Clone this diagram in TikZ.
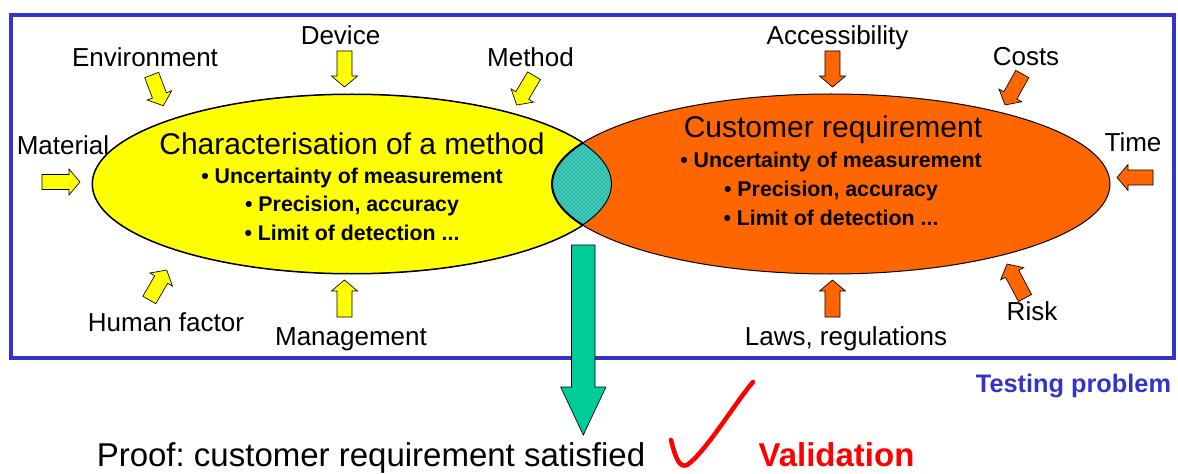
\documentclass[tikz,border=0pt]{standalone}
\usepackage{fontspec}
\setmainfont{Liberation Sans}
\usetikzlibrary{calc,patterns}
\frenchspacing

\definecolor{frameblue}{RGB}{51,51,204}
\definecolor{charyellow}{RGB}{255,255,0}
\definecolor{custorange}{RGB}{255,102,0}
\definecolor{proofgreen}{RGB}{0,204,153}
\definecolor{lensteal}{RGB}{40,190,170}

\tikzset{every picture/.style={line width=0.75pt}}
\tikzset{
  lbl/.style={font=\fontsize{19.5}{23}\selectfont, anchor=base, inner sep=0pt},
  ttl/.style={font=\fontsize{22.5}{27}\selectfont, anchor=base, inner sep=0pt},
  bul/.style={font=\bfseries\fontsize{16}{19}\selectfont, anchor=base, inner sep=0pt},
  blockarr/.style={draw=black, line width=0.5pt, line join=miter}
}

% block arrow: fill, tail, tip, shaft half width, head half width, head length
\newcommand{\blockarrow}[6]{%
  \coordinate (ba-t) at #2;
  \coordinate (ba-p) at #3;
  \coordinate (ba-h) at ($(ba-p)!#6!(ba-t)$);
  \draw[blockarr, fill=#1] ($(ba-t)!#4!90:(ba-p)$) -- ($(ba-h)!#4!90:(ba-p)$)
    -- ($(ba-h)!#5!90:(ba-p)$) -- (ba-p) -- ($(ba-h)!#5!-90:(ba-p)$)
    -- ($(ba-h)!#4!-90:(ba-p)$) -- ($(ba-t)!#4!-90:(ba-p)$) -- cycle;
}

\begin{document}
\begin{tikzpicture}[x=0.75pt,y=0.75pt,yscale=-1,xscale=1]
\useasboundingbox (0,0) rectangle (1178,474);

%Shape: Rectangle [testing problem frame]
\draw [color=frameblue, line width=3pt] (11,15) rectangle (1174,358);

%Shape: Ellipse [characterisation]
\coordinate (charc) at (352,184);
\coordinate (custc) at (831,184);
\draw [fill=charyellow] (charc) ellipse [x radius=260, y radius=90];
%Shape: Ellipse [customer requirement]
\draw [fill=custorange] (custc) ellipse [x radius=279, y radius=90];
%Shape: Lens [overlap]
\begin{scope}
\clip (charc) ellipse [x radius=260, y radius=90];
\fill [lensteal] (custc) ellipse [x radius=279, y radius=90];
\fill [pattern=crosshatch dots, pattern color=white!70!lensteal] (custc) ellipse [x radius=279, y radius=90];
\draw [line width=1.5pt] (custc) ellipse [x radius=279, y radius=90];
\draw [line width=1.5pt] (charc) ellipse [x radius=260, y radius=90];
\end{scope}

% Text Node
\node [ttl] (chartitle) at (352,155) {Characterisation of a method};
\node [bul] (charb1) at (352,184) {• Uncertainty of measurement};
\node [bul] (charb2) at (352,212) {• Precision, accuracy};
\node [bul] (charb3) at (352,240) {• Limit of detection ...};
% Text Node
\node [ttl] (custtitle) at (833,138) {Customer requirement};
\node [bul] (custb1) at (831,168) {• Uncertainty of measurement};
\node [bul] (custb2) at (831,197) {• Precision, accuracy};
\node [bul] (custb3) at (831,225) {• Limit of detection ...};

% Text Node
\node [lbl] (environment) at (145,66.7) {Environment};
\node [lbl] (device) at (340.5,45) {Device};
\node [lbl] (method) at (530.5,66.7) {Method};
\node [lbl] (material) at (63,155) {Material};
\node [lbl] (human) at (166,331.7) {Human factor};
\node [lbl] (management) at (351,345.5) {Management};
% Text Node
\node [lbl] (accessibility) at (837.5,45) {Accessibility};
\node [lbl] (costs) at (1026,66) {Costs};
\node [lbl] (time) at (1133,152) {Time};
\node [lbl] (laws) at (846,345) {Laws, regulations};
\node [lbl] (risk) at (1032,320.7) {Risk};

%Block Arrows [method side]
\blockarrow{charyellow}{(151.7,75)}{(163.3,105.7)}{5.6pt}{9.75pt}{8.25pt}
\blockarrow{charyellow}{(344.5,51)}{(344.5,87)}{5.6pt}{9.75pt}{8.25pt}
\blockarrow{charyellow}{(534,75.7)}{(516.7,105)}{5.6pt}{9.75pt}{8.25pt}
\blockarrow{charyellow}{(42,182)}{(80,182)}{5.6pt}{9.75pt}{8.25pt}
\blockarrow{charyellow}{(149.3,300)}{(166.7,270)}{5.6pt}{9.75pt}{8.25pt}
\blockarrow{charyellow}{(344.5,317)}{(344.5,280)}{5.6pt}{9.75pt}{8.25pt}
%Block Arrows [customer side]
\blockarrow{custorange}{(832.5,51)}{(832.5,87)}{5.6pt}{9.75pt}{8.25pt}
\blockarrow{custorange}{(1022.3,74)}{(1005,105)}{5.6pt}{9.75pt}{8.25pt}
\blockarrow{custorange}{(1153,177.5)}{(1117,177.5)}{5.6pt}{9.75pt}{8.25pt}
\blockarrow{custorange}{(832.5,317)}{(832.5,280)}{5.6pt}{9.75pt}{8.25pt}
\blockarrow{custorange}{(1025,298)}{(1007,264)}{5.6pt}{9.75pt}{8.25pt}

%Block Arrow [proof]
\blockarrow{proofgreen}{(583.3,245)}{(583.3,435)}{8.8pt}{17pt}{36pt}

% Text Node
\node [font=\bfseries\fontsize{19}{23}\selectfont, color=frameblue, anchor=base, inner sep=0pt] (testing) at (1073.5,392.7) {Testing problem};
\node [font=\fontsize{24.75}{29}\selectfont, anchor=base, inner sep=0pt] (proof) at (371,466) {Proof: customer requirement satisfied};
\node [font=\bfseries\fontsize{24.75}{29}\selectfont, color=red, anchor=base, inner sep=0pt] (validation) at (836.5,466) {Validation};

%Curve Lines [check mark]
\draw [color=red, line width=3.4pt, line cap=round, line join=round] (671,440) .. controls (676,460) and (680,468) .. (687,465) .. controls (705,453) and (735,403) .. (753,382);

\end{tikzpicture}
\end{document}
